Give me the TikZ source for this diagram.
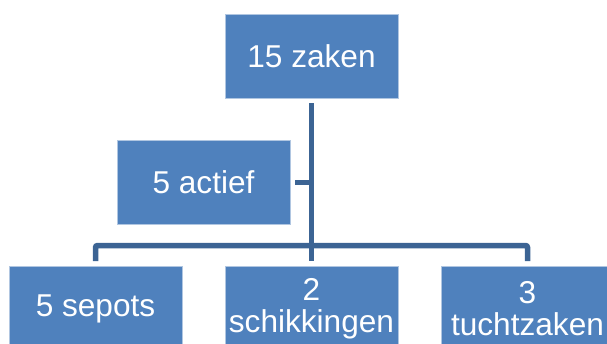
\documentclass[tikz,border=0pt]{standalone}
\usepackage{fontspec}
\setmainfont{Liberation Sans}
\definecolor{boxblue}{RGB}{79,129,189}
\definecolor{lineblue}{RGB}{60,100,148}
\begin{document}
\begin{tikzpicture}[x=1pt,y=-1pt,
  box/.style={rectangle, fill=boxblue, draw=white!55!boxblue, line width=0.8pt,
    minimum width=173pt, minimum height=84pt, inner sep=0pt,
    text=white, font=\fontsize{31.6}{32}\selectfont, align=center},
  conn/.style={draw=lineblue, line width=5.5pt}]
\useasboundingbox (0,0) rectangle (607,343);
\clip (0,0) rectangle (607,343);
\node[box] (top) at (311.5,56) {15 zaken};
\node[box] (act) at (203.5,182.5) {5 actief};
\node[box] (b1) at (95.5,308.5) {5 sepots};
\node[box] (b2) at (311.5,308.5) {2\\schikkingen};
\node[box] (b3) at (527.5,308.5) {3\\tuchtzaken};
\coordinate (bar) at (311.5,245.5);
\draw[conn] ([yshift=-5pt]top.south) -- ([yshift=5pt]b2.north);
\draw[conn, rounded corners=2pt] ([yshift=5pt]b1.north) |- (bar) -| ([yshift=5pt]b3.north);
\draw[conn] ([xshift=5pt]act.east) -- (act.east -| top.south);
\end{tikzpicture}
\end{document}
